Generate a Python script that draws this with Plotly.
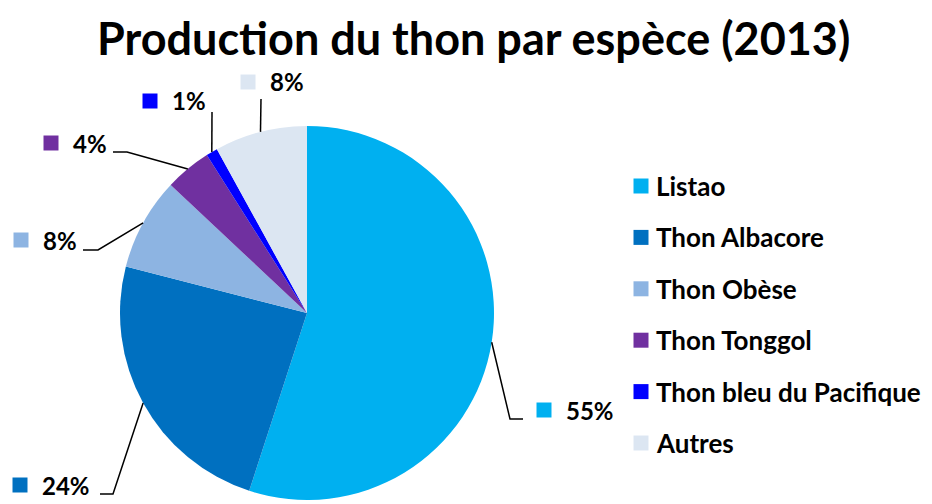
import math
import plotly.graph_objects as go

# ---------------- data ----------------
categories = ["Listao", "Thon Albacore", "Thon Obèse", "Thon Tonggol",
              "Thon bleu du Pacifique", "Autres"]
values = [55, 24, 8, 4, 1, 8]
pct_labels = ["55%", "24%", "8%", "4%", "1%", "8%"]
colors = ["#00B0F0", "#0070C0", "#8DB4E2", "#7030A0", "#0000FF", "#DCE6F2"]
title_text = "Production du thon par espèce (2013)"

# ---------------- layout constants (pixels) ----------------
W, H = 932, 504
CX, CY, R = 307, 313, 187
label_elbow = [(510, 419), (113, 494), (98, 250), (127, 152), (212, 112), (261, 99)]
label_end = [(523, 419), (100, 494), (83, 250), (113, 152), None, None]
label_square = [(544, 410), (20, 485), (21, 240), (51, 143), (150, 101), (248, 82)]
LEG_X, LEG_Y0, LEG_DY = 641, 186, 51.4
FONT = "Lato, Open Sans, sans-serif"


def px(x):
    return x / W


def py(y):
    return 1 - y / H


fig = go.Figure(go.Pie(
    labels=categories, values=values, sort=False, direction="clockwise",
    rotation=0, marker=dict(colors=colors, line=dict(width=0)),
    textinfo="none", hoverinfo="label+percent", showlegend=False,
    domain=dict(x=[px(CX - R), px(CX + R)], y=[py(CY + R), py(CY - R)]),
))

shapes, annotations = [], []
total = sum(values)
cum = 0
for i, v in enumerate(values):
    theta = 2 * math.pi * (cum + v / 2) / total
    cum += v
    ax, ay = CX + R * math.sin(theta), CY - R * math.cos(theta)
    ex, ey = label_elbow[i]
    path = f"M {px(ax)},{py(ay)} L {px(ex)},{py(ey)}"
    if label_end[i] is not None:
        path += f" L {px(label_end[i][0])},{py(label_end[i][1])}"
    shapes.append(dict(type="path", path=path, xref="paper", yref="paper",
                       line=dict(color="black", width=1.5)))
    sx, sy = label_square[i]
    shapes.append(dict(type="rect", xref="paper", yref="paper",
                       x0=px(sx - 7.5), x1=px(sx + 7.5), y0=py(sy + 7.5), y1=py(sy - 7.5),
                       fillcolor=colors[i], line=dict(width=0)))
    annotations.append(dict(text=f"<b>{pct_labels[i]}</b>", x=px(sx + 21), y=py(sy),
                            xref="paper", yref="paper", xanchor="left", yanchor="middle",
                            showarrow=False, borderpad=0,
                            font=dict(family=FONT, size=24, color="black")))

# manual legend
for i, c in enumerate(categories):
    yy = LEG_Y0 + i * LEG_DY
    shapes.append(dict(type="rect", xref="paper", yref="paper",
                       x0=px(LEG_X - 7.5), x1=px(LEG_X + 7.5), y0=py(yy + 7.5), y1=py(yy - 7.5),
                       fillcolor=colors[i], line=dict(width=0)))
    annotations.append(dict(text=f"<b>{c}</b>", x=px(LEG_X + 13), y=py(yy),
                            xref="paper", yref="paper", xanchor="left", yanchor="middle",
                            showarrow=False, font=dict(family=FONT, size=26, color="black")))

annotations.append(dict(text=f"<b>{title_text}</b>", x=px(474), y=py(38),
                        xref="paper", yref="paper", xanchor="center", yanchor="middle",
                        showarrow=False, font=dict(family=FONT, size=45, color="black")))

fig.update_layout(width=W, height=H, margin=dict(l=0, r=0, t=0, b=0),
                  paper_bgcolor="white", plot_bgcolor="white",
                  shapes=shapes, annotations=annotations)

fig.write_html("out.html", config={"displayModeBar": False},
               post_script="document.body.style.margin='0';document.body.style.padding='0';")
